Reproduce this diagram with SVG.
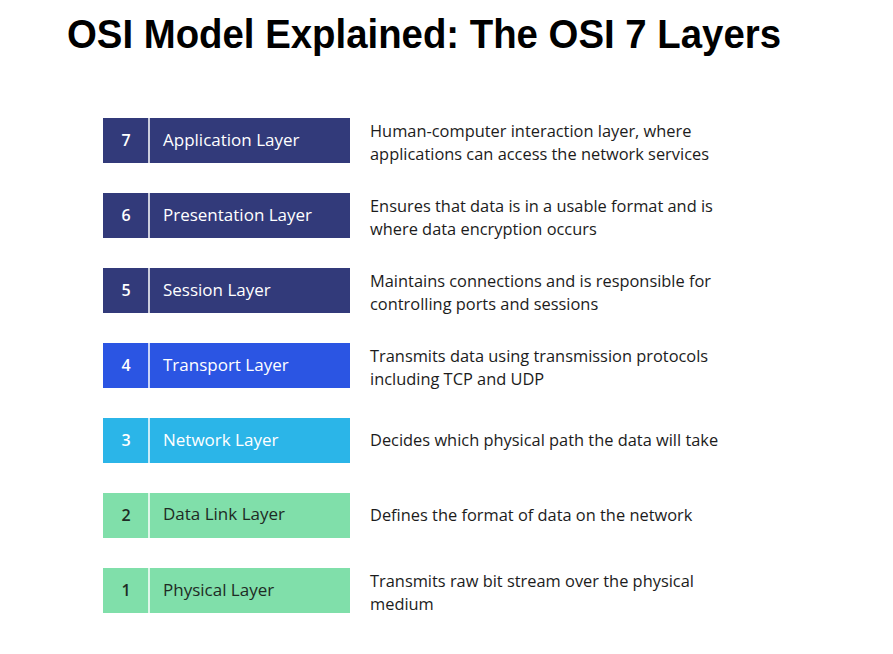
<svg xmlns="http://www.w3.org/2000/svg" width="893" height="654" viewBox="0 0 893 654">
<style>
.title{font-family:"Liberation Sans",Arial,sans-serif;font-weight:bold;font-size:40px;fill:#000}
.num{font-family:"Open Sans","Noto Sans",sans-serif;font-size:16px;text-anchor:middle;font-weight:600}
.lbl{font-family:"Open Sans","Noto Sans",sans-serif;font-size:17px;font-weight:500}
.desc{font-family:"Open Sans","Noto Sans",sans-serif;font-size:16.4px;fill:#1c1c1c}
.div{stroke:#fff;stroke-width:1.5}
.w{fill:#fff}
.d{fill:#1e2b25}
</style>
<rect width="893" height="654" fill="#fff"/>
<text class="title" x="67" y="48" textLength="714" lengthAdjust="spacingAndGlyphs">OSI Model Explained: The OSI 7 Layers</text>
<g id="layer7">
<rect x="103" y="118" width="247" height="45" fill="#323a7a"/><line class="div" x1="149" y1="118" x2="149" y2="163"/>
<text class="num w" x="126" y="146">7</text><text class="lbl w" x="163" y="146">Application Layer</text>
<text class="desc" x="370" y="137">Human-computer interaction layer, where</text>
<text class="desc" x="370" y="160">applications can access the network services</text>
</g>
<g id="layer6">
<rect x="103" y="193" width="247" height="45" fill="#323a7a"/><line class="div" x1="149" y1="193" x2="149" y2="238"/>
<text class="num w" x="126" y="221">6</text><text class="lbl w" x="163" y="221">Presentation Layer</text>
<text class="desc" x="370" y="212">Ensures that data is in a usable format and is</text>
<text class="desc" x="370" y="235">where data encryption occurs</text>
</g>
<g id="layer5">
<rect x="103" y="268" width="247" height="45" fill="#323a7a"/><line class="div" x1="149" y1="268" x2="149" y2="313"/>
<text class="num w" x="126" y="296">5</text><text class="lbl w" x="163" y="296">Session Layer</text>
<text class="desc" x="370" y="287">Maintains connections and is responsible for</text>
<text class="desc" x="370" y="310">controlling ports and sessions</text>
</g>
<g id="layer4">
<rect x="103" y="343" width="247" height="45" fill="#2b55e3"/><line class="div" x1="149" y1="343" x2="149" y2="388"/>
<text class="num w" x="126" y="371">4</text><text class="lbl w" x="163" y="371">Transport Layer</text>
<text class="desc" x="370" y="362">Transmits data using transmission protocols</text>
<text class="desc" x="370" y="385">including TCP and UDP</text>
</g>
<g id="layer3">
<rect x="103" y="418" width="247" height="45" fill="#2bb5e8"/><line class="div" x1="149" y1="418" x2="149" y2="463"/>
<text class="num w" x="126" y="446">3</text><text class="lbl w" x="163" y="446">Network Layer</text>
<text class="desc" x="370" y="446">Decides which physical path the data will take</text>
</g>
<g id="layer2">
<rect x="103" y="493" width="247" height="45" fill="#80dfaa"/><line class="div" x1="149" y1="493" x2="149" y2="538"/>
<text class="num d" x="126" y="521">2</text><text class="lbl d" x="163" y="520">Data Link Layer</text>
<text class="desc" x="370" y="521">Defines the format of data on the network</text>
</g>
<g id="layer1">
<rect x="103" y="568" width="247" height="45" fill="#80dfaa"/><line class="div" x1="149" y1="568" x2="149" y2="613"/>
<text class="num d" x="126" y="596">1</text><text class="lbl d" x="163" y="596">Physical Layer</text>
<text class="desc" x="370" y="587">Transmits raw bit stream over the physical</text>
<text class="desc" x="370" y="610">medium</text>
</g>
</svg>
